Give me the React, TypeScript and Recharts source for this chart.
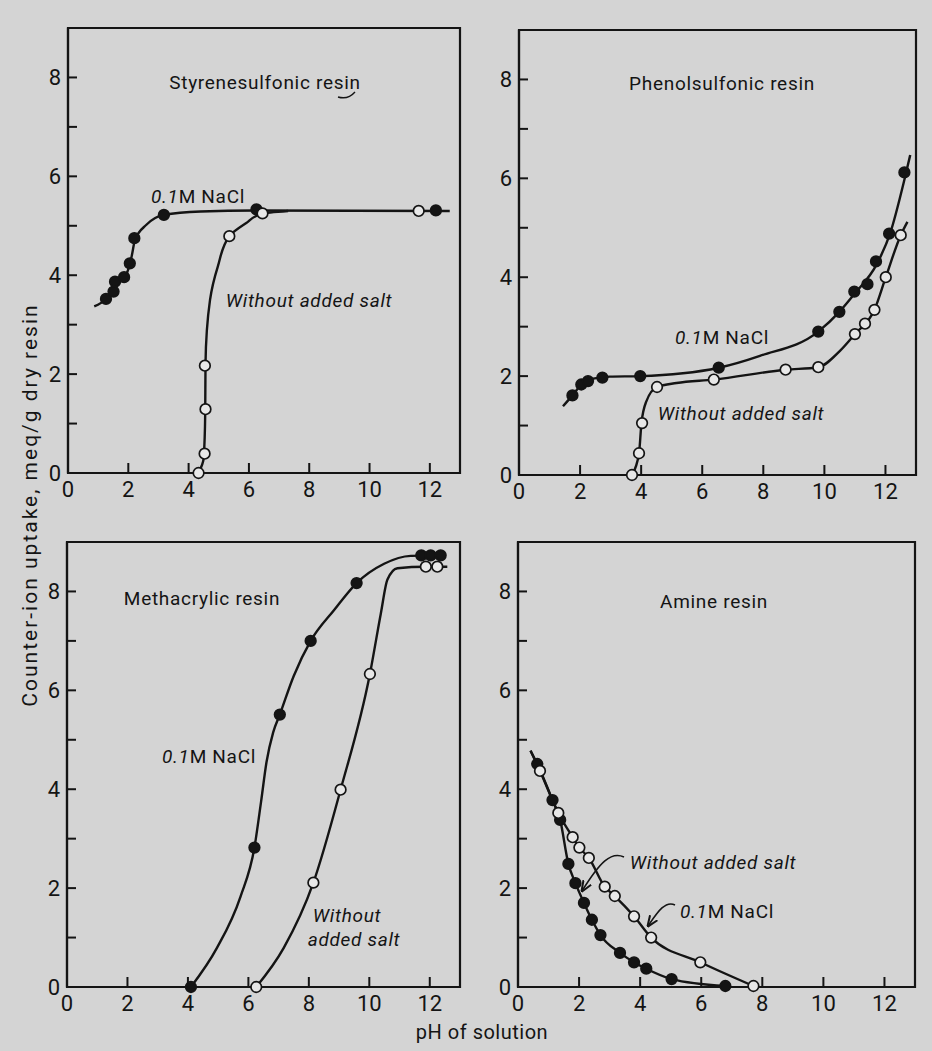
import React from "react";
import { ComposedChart, Line, Scatter, XAxis, YAxis, ReferenceArea } from "recharts";

// values: [pH, meq/g]
const styreneSaltCurve = [[0.87, 3.37], [1.26, 3.52], [1.56, 3.77], [1.95, 4.04], [2.11, 4.38], [2.22, 4.71], [2.6, 5.02], [3.18, 5.22], [4.4, 5.29], [6.2, 5.31], [12.66, 5.3]];
const styreneSaltPts = [[1.26, 3.52], [1.51, 3.67], [1.56, 3.87], [1.86, 3.96], [2.05, 4.24], [2.2, 4.75], [3.18, 5.22], [6.25, 5.33], [12.2, 5.31]];
const styreneNoSaltCurve = [[4.33, 0], [4.5, 0.3], [4.55, 1.2], [4.56, 2.2], [4.71, 3.5], [4.97, 4.18], [5.35, 4.79], [5.9, 5.05], [6.45, 5.25], [7.3, 5.3]];
const styreneNoSaltPts = [[4.33, 0], [4.53, 0.39], [4.56, 1.29], [4.54, 2.17], [5.35, 4.79], [6.45, 5.25], [11.63, 5.3]];

const phenolSaltCurve = [[1.44, 1.39], [1.75, 1.61], [2.04, 1.83], [2.43, 1.95], [2.97, 1.99], [3.97, 2.0], [6.54, 2.17], [7.89, 2.41], [9.8, 2.9], [10.49, 3.3], [10.98, 3.66], [11.72, 4.27], [12.15, 4.88], [12.62, 5.97], [12.81, 6.47]];
const phenolSaltPts = [[1.75, 1.61], [2.04, 1.83], [2.26, 1.9], [2.73, 1.97], [3.97, 2.0], [6.54, 2.17], [9.8, 2.9], [10.49, 3.3], [10.98, 3.71], [11.41, 3.86], [11.69, 4.32], [12.12, 4.88], [12.62, 6.12]];
const phenolNoSaltCurve = [[3.7, 0], [3.93, 0.44], [4.01, 1.05], [4.17, 1.49], [4.52, 1.78], [5.16, 1.86], [6.38, 1.93], [8.73, 2.13], [9.8, 2.18], [10.51, 2.51], [11.0, 2.85], [11.64, 3.34], [12.01, 4.0], [12.5, 4.85], [12.72, 5.12]];
const phenolNoSaltPts = [[3.7, 0], [3.93, 0.44], [4.03, 1.05], [4.52, 1.78], [6.38, 1.93], [8.73, 2.13], [9.8, 2.18], [11.0, 2.85], [11.33, 3.06], [11.64, 3.34], [12.01, 4.0], [12.5, 4.85]];

const methSaltCurve = [[4.1, 0], [4.96, 0.79], [5.74, 1.83], [6.2, 2.82], [6.42, 3.75], [6.6, 4.55], [6.82, 5.15], [7.04, 5.51], [7.5, 6.29], [8.06, 7.0], [8.83, 7.62], [9.58, 8.17], [10.49, 8.56], [11.37, 8.72], [12.47, 8.73]];
const methSaltPts = [[4.1, 0], [6.2, 2.82], [7.04, 5.51], [8.06, 7.0], [9.58, 8.17], [11.72, 8.73], [12.03, 8.73], [12.36, 8.73]];
const methNoSaltCurve = [[6.26, 0], [7.17, 0.79], [8.15, 2.11], [9.05, 3.99], [10.02, 6.33], [10.38, 7.55], [10.6, 8.24], [10.93, 8.47], [11.87, 8.5], [12.58, 8.5]];
const methNoSaltPts = [[6.26, 0], [8.15, 2.11], [9.05, 3.99], [10.02, 6.33], [11.87, 8.5], [12.25, 8.5]];

const amineFilledCurve = [[0.41, 4.78], [0.63, 4.51], [1.13, 3.78], [1.38, 3.38], [1.65, 2.49], [1.88, 2.1], [2.16, 1.7], [2.42, 1.36], [2.7, 1.05], [3.34, 0.69], [3.8, 0.5], [4.2, 0.37], [5.03, 0.16], [6.79, 0.02]];
const amineFilledPts = [[0.63, 4.51], [1.13, 3.78], [1.38, 3.38], [1.65, 2.49], [1.88, 2.1], [2.16, 1.7], [2.42, 1.36], [2.7, 1.05], [3.34, 0.69], [3.8, 0.5], [4.2, 0.37], [5.03, 0.16], [6.79, 0.02]];
const amineOpenCurve = [[0.41, 4.78], [0.72, 4.37], [1.32, 3.52], [1.79, 3.03], [2.01, 2.82], [2.32, 2.61], [2.84, 2.03], [3.17, 1.84], [3.8, 1.43], [4.36, 1.0], [5.97, 0.5], [7.71, 0.02]];
const amineOpenPts = [[0.72, 4.37], [1.32, 3.52], [1.79, 3.03], [2.01, 2.82], [2.32, 2.61], [2.84, 2.03], [3.17, 1.84], [3.8, 1.43], [4.36, 1.0], [5.97, 0.5], [7.71, 0.02]];

const xTicks = [0, 2, 4, 6, 8, 10, 12];
const yTicks = [0, 1, 2, 3, 4, 5, 6, 7, 8];

const INK = "#141414";
const BG = "#d4d4d4";
const FONT = "Roboto, 'DejaVu Sans', sans-serif";
const YW = 50;
const XH = 44;
const PAD = 8;

const toPts = (rows: number[][]) => rows.map(([x, y]) => ({ x, y }));

const dotShape = (filled: boolean) => (p: any) =>
  <circle cx={p.cx} cy={p.cy} r={5.3} fill={filled ? INK : "#e8e8e8"} stroke={INK} strokeWidth={1.7} />;

type Box = { x0: number; x1: number; y0: number; y1: number };
type Series = { curve: number[][]; pts: number[][]; filled: boolean; type: any };

function Panel({ box, series }: { box: Box; series: Series[] }) {
  const width = box.x1 - box.x0 + YW + PAD;
  const height = box.y1 - box.y0 + PAD + XH;
  return (
    <div style={{ position: "absolute", left: box.x0 - YW, top: box.y0 - PAD }}>
      <ComposedChart width={width} height={height} margin={{ top: PAD, right: PAD, bottom: 0, left: 0 }}>
        <XAxis
          type="number"
          dataKey="x"
          domain={[0, 13]}
          ticks={xTicks}
          interval={0}
          height={XH}
          tickSize={-10}
          tickMargin={18}
          axisLine={{ stroke: INK, strokeWidth: 2.2 }}
          tickLine={{ stroke: INK, strokeWidth: 2 }}
          tick={{ fontSize: 22, fill: INK, fontFamily: FONT }}
        />
        <YAxis
          type="number"
          dataKey="y"
          domain={[0, 9]}
          ticks={yTicks}
          interval={0}
          width={YW}
          tickSize={-9}
          tickMargin={16}
          tickFormatter={(v: number) => (v % 2 === 0 ? String(v) : "")}
          axisLine={{ stroke: INK, strokeWidth: 2.2 }}
          tickLine={{ stroke: INK, strokeWidth: 2 }}
          tick={{ fontSize: 22, fill: INK, fontFamily: FONT }}
        />
        <ReferenceArea x1={0} x2={13} y1={0} y2={9} fill="none" stroke={INK} strokeWidth={2.2} />
        {series.map((s, i) => (
          <Line
            key={"c" + i}
            data={toPts(s.curve)}
            dataKey="y"
            type={s.type}
            dot={false}
            stroke={INK}
            strokeWidth={2.4}
            isAnimationActive={false}
          />
        ))}
        {series.map((s, i) => (
          <Scatter key={"p" + i} data={toPts(s.pts)} dataKey="y" shape={dotShape(s.filled)} isAnimationActive={false} />
        ))}
      </ComposedChart>
    </div>
  );
}

const T = (props: any) => (
  <text fontFamily={FONT} fontSize={19} letterSpacing={0.7} fill={INK} textAnchor="middle" dominantBaseline="central" {...props} />
);

const NaCl = ({ x, y }: { x: number; y: number }) => (
  <T x={x} y={y}>
    <tspan fontStyle="italic">0.1</tspan>M NaCl
  </T>
);

export default function App() {
  return (
    <div style={{ position: "absolute", left: 0, top: 0, width: 932, height: 1051, background: BG, overflow: "hidden" }}>
      <Panel
        box={{ x0: 68, x1: 460, y0: 28, y1: 473 }}
        series={[
          { curve: styreneSaltCurve, pts: styreneSaltPts, filled: true, type: "monotoneX" },
          { curve: styreneNoSaltCurve, pts: styreneNoSaltPts, filled: false, type: "monotoneY" },
        ]}
      />
      <Panel
        box={{ x0: 519, x1: 916, y0: 30, y1: 475 }}
        series={[
          { curve: phenolSaltCurve, pts: phenolSaltPts, filled: true, type: "monotoneX" },
          { curve: phenolNoSaltCurve, pts: phenolNoSaltPts, filled: false, type: "monotoneX" },
        ]}
      />
      <Panel
        box={{ x0: 67, x1: 460, y0: 542, y1: 987 }}
        series={[
          { curve: methSaltCurve, pts: methSaltPts, filled: true, type: "monotoneX" },
          { curve: methNoSaltCurve, pts: methNoSaltPts, filled: false, type: "monotoneX" },
        ]}
      />
      <Panel
        box={{ x0: 518, x1: 915, y0: 542, y1: 987 }}
        series={[
          { curve: amineFilledCurve, pts: amineFilledPts, filled: true, type: "monotoneX" },
          { curve: amineOpenCurve, pts: amineOpenPts, filled: false, type: "monotoneX" },
        ]}
      />
      <svg width={932} height={1051} style={{ position: "absolute", left: 0, top: 0, pointerEvents: "none" }}>
        <defs>
          <marker id="head" viewBox="0 0 10 10" refX="9" refY="5" markerWidth="7" markerHeight="7" orient="auto">
            <path d="M0,1 L10,5 L0,9" fill="none" stroke={INK} strokeWidth={1.8} />
          </marker>
        </defs>
        <T x={265} y={82}>Styrenesulfonic resin</T>
        <path d="M338,97 Q348,100 355,92" fill="none" stroke={INK} strokeWidth={1.4} />
        <NaCl x={198} y={196} />
        <T x={309} y={300} fontStyle="italic">Without added salt</T>

        <T x={722} y={83}>Phenolsulfonic resin</T>
        <NaCl x={722} y={337} />
        <T x={741} y={413} fontStyle="italic">Without added salt</T>

        <T x={202} y={598}>Methacrylic resin</T>
        <NaCl x={209} y={756} />
        <T x={347} y={915} fontStyle="italic">Without</T>
        <T x={354} y={939} fontStyle="italic">added salt</T>

        <T x={714} y={601}>Amine resin</T>
        <T x={713} y={862} fontStyle="italic">Without added salt</T>
        <NaCl x={727} y={911} />
        <path d="M624,857 C611,851 600,862 582,891" fill="none" stroke={INK} strokeWidth={1.6} markerEnd="url(#head)" />
        <path d="M675,905 C665,900 657,913 648,926" fill="none" stroke={INK} strokeWidth={1.6} markerEnd="url(#head)" />

        <T x={30} y={505} fontSize={21} letterSpacing={2} transform="rotate(-90 30 505)">Counter-ion uptake, meq/g dry resin</T>
        <T x={482} y={1032} fontSize={20} letterSpacing={0.5}>pH of solution</T>
      </svg>
    </div>
  );
}
